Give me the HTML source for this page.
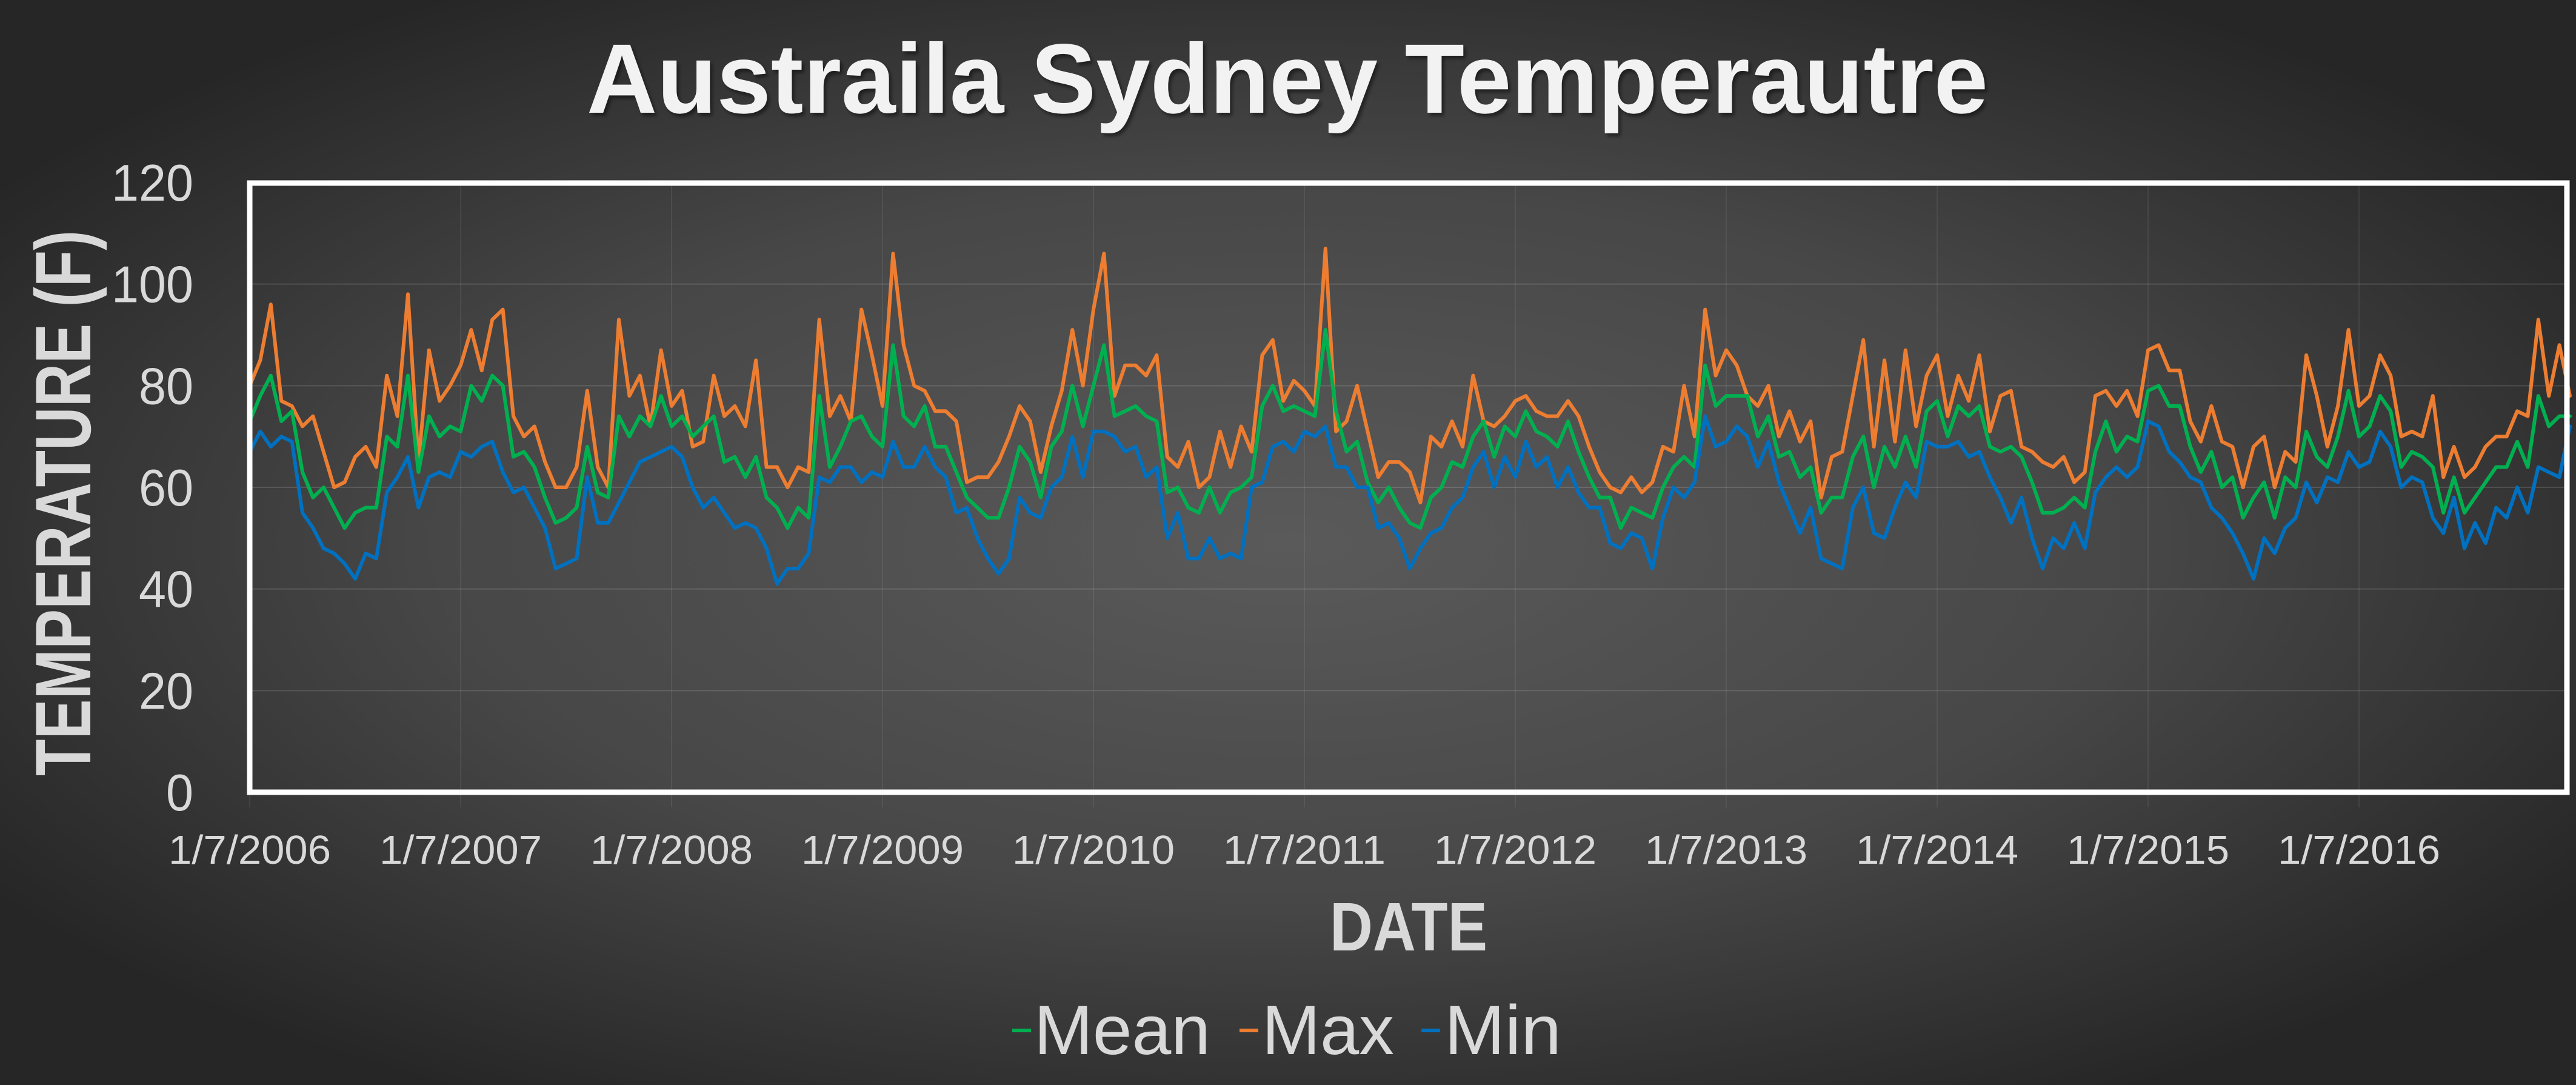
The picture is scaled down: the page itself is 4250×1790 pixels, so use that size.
<!DOCTYPE html>
<html>
<head>
<meta charset="utf-8">
<style>
  html,body{margin:0;padding:0;background:#2a2a2a;}
  svg{display:block;}
  text{font-family:"Liberation Sans",sans-serif;}
</style>
</head>
<body>
<svg id="chart" xmlns="http://www.w3.org/2000/svg" width="4250" height="1790" viewBox="0 0 4250 1790">
  <defs>
    <radialGradient id="bg" cx="50%" cy="50%" r="60%">
      <stop offset="0" stop-color="#5a5a5a"/>
      <stop offset="0.55" stop-color="#474747"/>
      <stop offset="1" stop-color="#262626"/>
    </radialGradient>
    <filter id="sh" x="-5%" y="-20%" width="110%" height="140%">
      <feDropShadow dx="4" dy="5" stdDeviation="3" flood-color="#000" flood-opacity="0.45"/>
    </filter>
  </defs>
  <rect x="0" y="0" width="4250" height="1790" fill="url(#bg)"/>
  <text x="2124" y="186" text-anchor="middle" font-size="163" font-weight="bold" fill="#f2f2f2" textLength="2312" lengthAdjust="spacingAndGlyphs" filter="url(#sh)">Austraila Sydney Temperautre</text>
  <g id="grid"></g>
  <g id="series"></g>
  <rect x="412" y="302" width="3823" height="1005" fill="none" stroke="#ffffff" stroke-width="9"/>
  <g id="yticks"></g>
  <g id="xticks"></g>
  <text transform="translate(149,830) rotate(-90)" text-anchor="middle" font-size="130" font-weight="bold" fill="#d9d9d9" textLength="900" lengthAdjust="spacingAndGlyphs">TEMPERATURE (F)</text>
  <text x="2324" y="1568" text-anchor="middle" font-size="113" font-weight="bold" fill="#d9d9d9" textLength="260" lengthAdjust="spacingAndGlyphs">DATE</text>
  <g>
    <g>
      <line x1="1670" y1="1700" x2="1701" y2="1700" stroke="#00b050" stroke-width="6"/>
      <text x="1706" y="1739" font-size="115" fill="#d9d9d9" textLength="291" lengthAdjust="spacingAndGlyphs">Mean</text>
    </g>
    <g>
      <line x1="2045" y1="1700" x2="2076" y2="1700" stroke="#ed7d31" stroke-width="6"/>
      <text x="2082" y="1739" font-size="115" fill="#d9d9d9" textLength="218" lengthAdjust="spacingAndGlyphs">Max</text>
    </g>
    <g>
      <line x1="2345" y1="1700" x2="2376" y2="1700" stroke="#0070c0" stroke-width="6"/>
      <text x="2383" y="1739" font-size="115" fill="#d9d9d9" textLength="193" lengthAdjust="spacingAndGlyphs">Min</text>
    </g>
  </g>
</svg>
<script>
// ---- data (20 samples per year starting 1/7/2006) ----
const startYear = 2006;
const samplesPerYear = 20;
const yTicks = [0, 20, 40, 60, 80, 100, 120];
const xTickYears = [2006, 2007, 2008, 2009, 2010, 2011, 2012, 2013, 2014, 2015, 2016];
const xTickLabels = ["1/7/2006","1/7/2007","1/7/2008","1/7/2009","1/7/2010","1/7/2011","1/7/2012","1/7/2013","1/7/2014","1/7/2015","1/7/2016"];
const maxValues = [
80,85,96,77,76,72,74,67,60,61,66,68,64,82,74,98,65,87,77,80,
84,91,83,93,95,74,70,72,65,60,60,64,79,64,60,93,78,82,72,87,
76,79,68,69,82,74,76,72,85,64,64,60,64,63,93,74,78,73,95,86,
76,106,88,80,79,75,75,73,61,62,62,65,70,76,73,63,72,79,91,80,
95,106,78,84,84,82,86,66,64,69,60,62,71,64,72,67,86,89,77,81,
79,76,107,71,73,80,71,62,65,65,63,57,70,68,73,68,82,73,72,74,
77,78,75,74,74,77,74,68,63,60,59,62,59,61,68,67,80,70,95,82,
87,84,78,76,80,70,75,69,73,58,66,67,78,89,68,85,69,87,72,82,
86,74,82,77,86,71,78,79,68,67,65,64,66,61,63,78,79,76,79,74,
87,88,83,83,73,69,76,69,68,60,68,70,60,67,65,86,78,68,76,91,
76,78,86,82,70,71,70,78,62,68,62,64,68,70,70,75,74,93,78,88,78];
const meanValues = [
73,78,82,73,75,63,58,60,56,52,55,56,56,70,68,82,63,74,70,72,
71,80,77,82,80,66,67,64,58,53,54,56,68,59,58,74,70,74,72,78,
72,74,70,72,74,65,66,62,66,58,56,52,56,54,78,64,68,73,74,70,
68,88,74,72,76,68,68,63,58,56,54,54,60,68,65,58,68,71,80,72,
80,88,74,75,76,74,73,59,60,56,55,60,55,59,60,62,76,80,75,76,
75,74,91,75,67,69,61,57,60,56,53,52,58,60,65,64,70,73,66,72,
70,75,71,70,68,73,67,62,58,58,52,56,55,54,60,64,66,64,84,76,
78,78,78,70,74,66,67,62,64,55,58,58,66,70,60,68,64,70,64,75,
77,70,76,74,76,68,67,68,66,61,55,55,56,58,56,67,73,67,70,69,
79,80,76,76,68,63,67,60,62,54,58,61,54,62,60,71,66,64,70,79,
70,72,78,75,64,67,66,64,55,62,55,58,61,64,64,69,64,78,72,74,74];
const minValues = [
67,71,68,70,69,55,52,48,47,45,42,47,46,59,62,66,56,62,63,62,
67,66,68,69,63,59,60,56,52,44,45,46,62,53,53,57,61,65,66,67,
68,66,60,56,58,55,52,53,52,48,41,44,44,47,62,61,64,64,61,63,
62,69,64,64,68,64,62,55,56,50,46,43,46,58,55,54,60,62,70,62,
71,71,70,67,68,62,64,50,55,46,46,50,46,47,46,60,61,68,69,67,
71,70,72,64,64,60,60,52,53,50,44,48,51,52,56,58,64,67,60,66,
62,69,64,66,60,64,59,56,56,49,48,51,50,44,54,60,58,61,74,68,
69,72,70,64,69,61,56,51,56,46,45,44,56,60,51,50,56,61,58,69,
68,68,69,66,67,62,58,53,58,50,44,50,48,53,48,59,62,64,62,64,
73,72,67,65,62,61,56,54,51,47,42,50,47,52,54,61,57,62,61,67,
64,65,71,68,60,62,61,54,51,58,48,53,49,56,54,60,55,64,63,62,72];

// ---- scales ----
const X0 = 412, PX_PER_YEAR = 348;
const Y0 = 1307, PX_PER_UNIT = (1307 - 301) / 120;
function xScale(year){ return X0 + (year - startYear) * PX_PER_YEAR; }
function yScale(v){ return Y0 - v * PX_PER_UNIT; }
const NS = "http://www.w3.org/2000/svg";

// gridlines
const grid = document.getElementById('grid');
yTicks.forEach(function(t){
  if (t === 0 || t === 120) return;
  const l = document.createElementNS(NS, 'line');
  
  
  l.setAttribute('x1', 412); l.setAttribute('x2', 4235);
  l.setAttribute('y1', yScale(t)); l.setAttribute('y2', yScale(t));
  l.setAttribute('stroke', 'rgba(255,255,255,0.13)'); l.setAttribute('stroke-width', '2');
  grid.appendChild(l);
});
xTickYears.forEach(function(yr){
  const l = document.createElementNS(NS, 'line');
  
  
  l.setAttribute('x1', xScale(yr)); l.setAttribute('x2', xScale(yr));
  l.setAttribute('y1', 301); l.setAttribute('y2', 1332);
  l.setAttribute('stroke', 'rgba(255,255,255,0.07)'); l.setAttribute('stroke-width', '2');
  grid.appendChild(l);
});

// y ticks
const yt = document.getElementById('yticks');
yTicks.forEach(function(t){
  const s = String(t);
  const tx = document.createElementNS(NS, 'text');
  
  
  tx.setAttribute('x', 319);
  tx.setAttribute('y', yScale(t) + 30);
  tx.setAttribute('text-anchor', 'end');
  tx.setAttribute('font-size', '85');
  tx.setAttribute('fill', '#d9d9d9');
  tx.setAttribute('textLength', s.length * 45);
  tx.setAttribute('lengthAdjust', 'spacingAndGlyphs');
  tx.textContent = s;
  yt.appendChild(tx);
});

// x ticks
const xt = document.getElementById('xticks');
xTickYears.forEach(function(yr, i){
  const tx = document.createElementNS(NS, 'text');
  
  
  tx.setAttribute('x', xScale(yr));
  tx.setAttribute('y', 1425);
  tx.setAttribute('text-anchor', 'middle');
  tx.setAttribute('font-size', '67');
  tx.setAttribute('fill', '#d9d9d9');
  tx.setAttribute('textLength', 268);
  tx.setAttribute('lengthAdjust', 'spacingAndGlyphs');
  tx.textContent = xTickLabels[i];
  xt.appendChild(tx);
});

// series
const sg = document.getElementById('series');
function drawSeries(vals, color, name){
  const pts = vals.map(function(v, i){
    return xScale(startYear + i / samplesPerYear).toFixed(1) + ',' + yScale(v).toFixed(1);
  }).join(' ');
  const p = document.createElementNS(NS, 'polyline');
  
  
  p.setAttribute('points', pts);
  p.setAttribute('fill', 'none');
  p.setAttribute('stroke', color);
  p.setAttribute('stroke-width', '6');
  p.setAttribute('stroke-linejoin', 'round');
  p.setAttribute('stroke-linecap', 'round');
  sg.appendChild(p);
}
drawSeries(maxValues, '#ed7d31', 'max-line');
drawSeries(meanValues, '#00b050', 'mean-line');
drawSeries(minValues, '#0070c0', 'min-line');
</script>
</body>
</html>
